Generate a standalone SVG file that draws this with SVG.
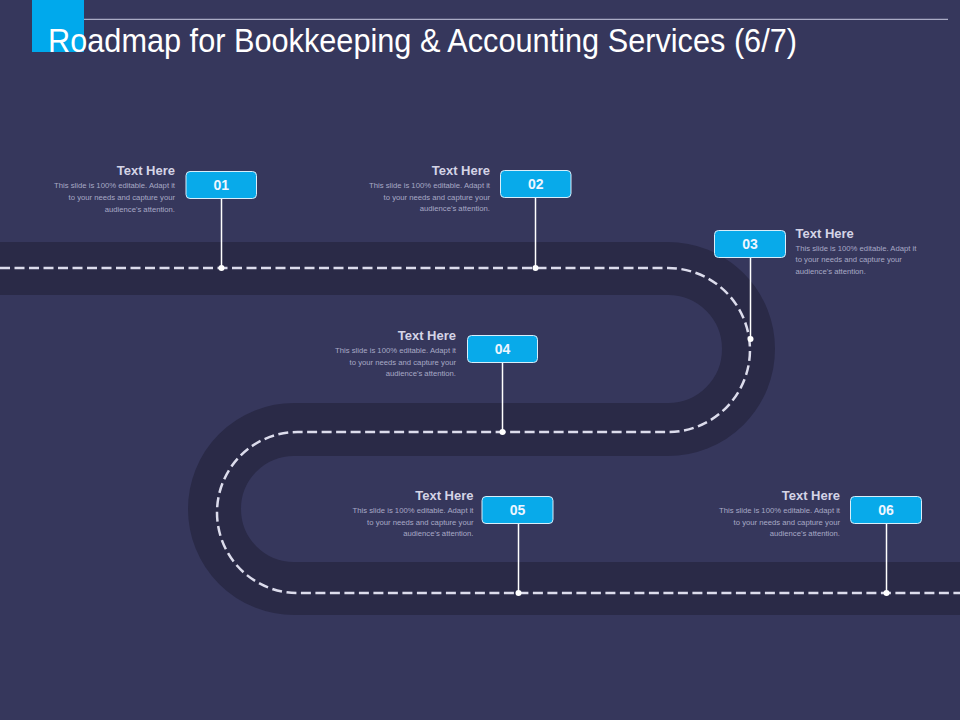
<svg xmlns="http://www.w3.org/2000/svg" width="960" height="720" viewBox="0 0 960 720">
<defs>
<style>
.bg{fill:#36375c}
.road{fill:none;stroke:#2a2a47;stroke-width:53}
.lane{fill:none;stroke:#dcdcec;stroke-width:2.5;stroke-dasharray:10 4.5}
.box{fill:#08aaea;stroke:#d8eefa;stroke-width:1}
.num{font-family:"Liberation Sans",Arial,sans-serif;font-weight:bold;font-size:14px;fill:#eef6ff;text-anchor:middle}
.ttl{font-family:"Liberation Sans",Arial,sans-serif;font-weight:bold;font-size:13px;fill:#d4d4e6}
.body{font-family:"Liberation Sans",Arial,sans-serif;font-size:7.7px;fill:#a8a9c6}
.end{text-anchor:end}
.start{text-anchor:start}
.conn line{stroke:#ffffff;stroke-width:1.5}
.conn circle{fill:#ffffff}
</style>
</defs>
<rect class="bg" x="0" y="0" width="960" height="720"/>
<g id="road">
<path class="road" d="M0 268.5 H668 A80.5 80.5 0 0 1 668 429.5 H294 A79.5 79.5 0 0 0 294 588.5 H960"/>
<path class="lane" d="M0 268 H668 A82 82 0 0 1 668 432 H297.5 A80.5 80.5 0 0 0 297.5 593 H960"/>
</g>
<g id="header">
<rect x="32" y="0" width="52" height="52" fill="#00a9ec"/>
<line x1="84" y1="19.3" x2="948" y2="19.3" stroke="#c8c8e0" stroke-width="1"/>
<text x="48" y="52" font-family="'Liberation Sans',Arial,sans-serif" font-size="34" fill="#ffffff" textLength="749" lengthAdjust="spacingAndGlyphs">Roadmap for Bookkeeping &amp; Accounting Services (6/7)</text>
</g>
<g id="connectors" class="conn">
<line x1="221.5" y1="198" x2="221.5" y2="268"/><circle cx="221.5" cy="268" r="3"/>
<line x1="535.5" y1="197" x2="535.5" y2="268"/><circle cx="535.5" cy="268" r="3"/>
<line x1="750.5" y1="257" x2="750.5" y2="339"/><circle cx="750.5" cy="339" r="3"/>
<line x1="502.5" y1="362" x2="502.5" y2="432"/><circle cx="502.5" cy="432" r="3"/>
<line x1="518.5" y1="523" x2="518.5" y2="593"/><circle cx="518.5" cy="593" r="3"/>
<line x1="886.5" y1="523" x2="886.5" y2="593"/><circle cx="886.5" cy="593" r="3"/>
</g>
<g id="node01">
<rect class="box" x="186" y="171.5" width="70.5" height="27" rx="4"/>
<text class="num" x="221.3" y="190">01</text>
<text class="ttl end" x="175" y="175">Text Here</text>
<text class="body end" x="175" y="188">This slide is 100% editable. Adapt it</text>
<text class="body end" x="175" y="200">to your needs and capture your</text>
<text class="body end" x="175" y="211.5">audience's attention.</text>
</g>
<g id="node02">
<rect class="box" x="500.5" y="170.5" width="70.5" height="27" rx="4"/>
<text class="num" x="535.8" y="189">02</text>
<text class="ttl end" x="490" y="174.5">Text Here</text>
<text class="body end" x="490" y="187.5">This slide is 100% editable. Adapt it</text>
<text class="body end" x="490" y="199.5">to your needs and capture your</text>
<text class="body end" x="490" y="211">audience's attention.</text>
</g>
<g id="node03">
<rect class="box" x="714.5" y="230.5" width="71" height="27" rx="4"/>
<text class="num" x="750" y="249">03</text>
<text class="ttl start" x="795.5" y="237.5">Text Here</text>
<text class="body start" x="795.5" y="250.5">This slide is 100% editable. Adapt it</text>
<text class="body start" x="795.5" y="262">to your needs and capture your</text>
<text class="body start" x="795.5" y="273.5">audience's attention.</text>
</g>
<g id="node04">
<rect class="box" x="467.5" y="335.5" width="70" height="27" rx="4"/>
<text class="num" x="502.5" y="354">04</text>
<text class="ttl end" x="456" y="339.5">Text Here</text>
<text class="body end" x="456" y="352.5">This slide is 100% editable. Adapt it</text>
<text class="body end" x="456" y="364.5">to your needs and capture your</text>
<text class="body end" x="456" y="376">audience's attention.</text>
</g>
<g id="node05">
<rect class="box" x="482" y="496.5" width="71" height="27" rx="4"/>
<text class="num" x="517.5" y="515">05</text>
<text class="ttl end" x="473.5" y="500">Text Here</text>
<text class="body end" x="473.5" y="513">This slide is 100% editable. Adapt it</text>
<text class="body end" x="473.5" y="524.5">to your needs and capture your</text>
<text class="body end" x="473.5" y="536">audience's attention.</text>
</g>
<g id="node06">
<rect class="box" x="850.5" y="496.5" width="71" height="27" rx="4"/>
<text class="num" x="886" y="515">06</text>
<text class="ttl end" x="840" y="499.5">Text Here</text>
<text class="body end" x="840" y="512.5">This slide is 100% editable. Adapt it</text>
<text class="body end" x="840" y="524.5">to your needs and capture your</text>
<text class="body end" x="840" y="536">audience's attention.</text>
</g>
</svg>
